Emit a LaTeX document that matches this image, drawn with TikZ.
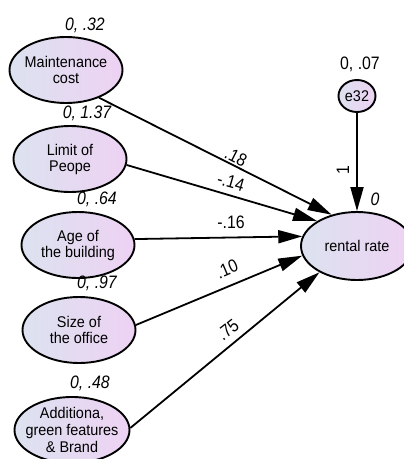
\documentclass[tikz,border=0pt]{standalone}
\usepackage{fontspec}
\setmainfont{Liberation Sans}[FakeStretch=0.93]
\newfontfamily\labfont{Liberation Sans}[FakeStretch=0.88]
\usetikzlibrary{shapes.geometric,arrows.meta}
\definecolor{lcol}{RGB}{220,226,240}
\definecolor{rcol}{RGB}{238,210,243}
\begin{document}
\begin{tikzpicture}[x=1pt,y=-1pt,
  var/.style={ellipse, draw=black, line width=1.9pt, left color=lcol, right color=rcol,
    inner sep=0pt, minimum width=113pt, minimum height=66pt},
  vtext/.style={font=\fontsize{15.5}{16}\selectfont, align=center},
  lab/.style={font=\labfont\fontsize{18}{20}\selectfont, inner sep=0pt},
  ilab/.style={lab, font=\labfont\itshape\fontsize{18}{20}\selectfont},
  reg/.style={line width=1.8pt, -{Triangle[length=24pt,width=13pt]}},
]
\useasboundingbox (0,0) rectangle (404,459);
\clip (0,0) rectangle (404,459);

% exogenous variables
\node[var, label={[vtext]center:Maintenance\\cost}] (mc) at (66,70) {};
\node[var, label={[vtext]center:Limit of\\Peope}] (lp) at (70,159) {};
\node[var, label={[vtext]center:Age of\\the building}] (ab) at (78,245) {};
\node[var, label={[vtext]center:Size of\\the office}] (so) at (79,330) {};
\node[var, minimum width=115pt, label={[vtext,font=\fontsize{15.5}{17}\selectfont]center:Additiona,\\green features\\\& Brand}] (ag) at (72,430) {};

% endogenous
\node[var, minimum width=112pt, minimum height=68pt, label={[vtext]center:rental rate}] (rr) at (357,246) {};
\node[var, minimum width=37pt, minimum height=32pt, label={[vtext]center:e32}] (e32) at (357,96) {};

% variance labels
\node[ilab] (vmc) at (85,25) {0, .32};
\node[ilab] (vlp) at (87,113) {0, 1.37};
\node[ilab] (vab) at (97,199) {0, .64};
\node[ilab] (vso) at (97,283) {0, .97};
\node[ilab] (vag) at (90,383) {0, .48};
\node[lab] (ve) at (360,64) {0, .07};
\node[ilab] (irr) at (375,199) {0};

% paths
\draw[reg] (mc.-40) -- (rr.129);
\draw[reg] (lp.-6) -- (rr.148);
\draw[reg] (ab.6) -- (rr.170);
\draw[reg] (so.5) -- (rr.190);
\draw[reg] (ag.2) -- (rr.215);
\draw[reg] (e32.south) -- (rr.north);

% path labels
\node[lab, rotate=-27] (w1) at (236,157) {.18};
\node[lab, rotate=-16] (w2) at (231,182) {-.14};
\node[lab] (w3) at (231,222) {-.16};
\node[lab, rotate=23] (w4) at (227,269) {.10};
\node[lab, rotate=38] (w5) at (228,330) {.75};
\node[lab, rotate=90] (w6) at (343,170) {1};
\end{tikzpicture}
\end{document}
